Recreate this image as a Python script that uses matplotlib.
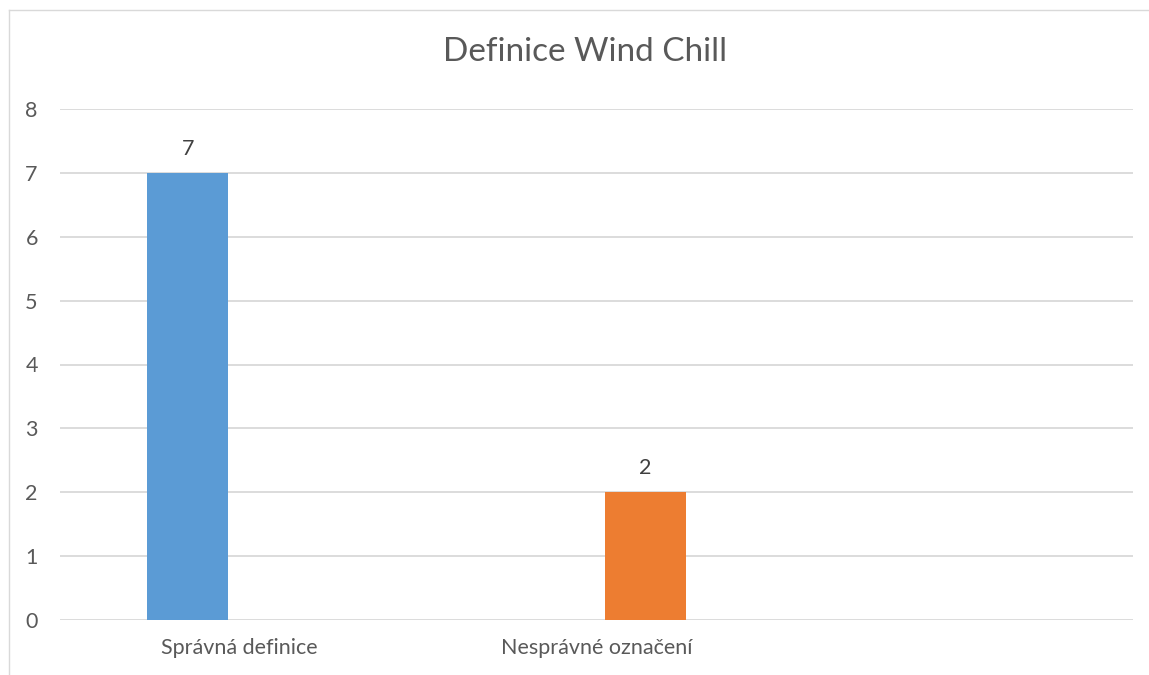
import matplotlib.pyplot as plt
from matplotlib.lines import Line2D

categories = ["Správná definice", "Nesprávné označení", ""]
series_names = ["Správná definice", "Nesprávné označení"]
series_values = [7, 2]
series_colors = ["#5B9BD5", "#ED7D31"]
y_ticks = [0, 1, 2, 3, 4, 5, 6, 7, 8]

plt.rcParams['font.family'] = ['Lato', 'DejaVu Sans']
text_col = "#595959"

fig = plt.figure(figsize=(11.49, 6.75), dpi=100)
ax = fig.add_axes([60 / 1149, 55 / 675, 1073 / 1149, 511 / 675])

# clustered bars: series i sits in category i, shifted like excel does
bar_w = 0.226
offsets = [-0.143, 0.137]
for i, (name, val) in enumerate(zip(series_names, series_values)):
    x = i + offsets[i]
    ax.bar(x, val, width=bar_w, color=series_colors[i], zorder=3, label=name)
    ax.text(x, val + 0.22, str(val), ha="center", va="bottom",
            fontsize=15.5, color="#404040")

ax.set_xlim(-0.5, len(categories) - 0.5)
ax.set_ylim(0, 8)
ax.set_yticks(y_ticks)
ax.set_xticks(range(len(categories)))
ax.set_xticklabels(categories)
ax.tick_params(axis="both", length=0, labelsize=15.5, colors=text_col)
ax.tick_params(axis="y", pad=16)
ax.tick_params(axis="x", pad=13)
ax.grid(axis="y", color="#D9D9D9", linewidth=1.3, zorder=0)
for s in ax.spines.values():
    s.set_visible(False)

fig.text(585 / 1149, 1 - 52 / 675, "Definice Wind Chill", ha="center",
         va="center", fontsize=24, color=text_col)

# chart area border (left and top visible)
fig.add_artist(Line2D([9 / 1149, 9 / 1149], [0, 1 - 10 / 675],
                      transform=fig.transFigure, color="#D9D9D9", lw=1))
fig.add_artist(Line2D([9 / 1149, 1], [1 - 10 / 675, 1 - 10 / 675],
                      transform=fig.transFigure, color="#D9D9D9", lw=1))

plt.savefig("out.png", dpi=100)
